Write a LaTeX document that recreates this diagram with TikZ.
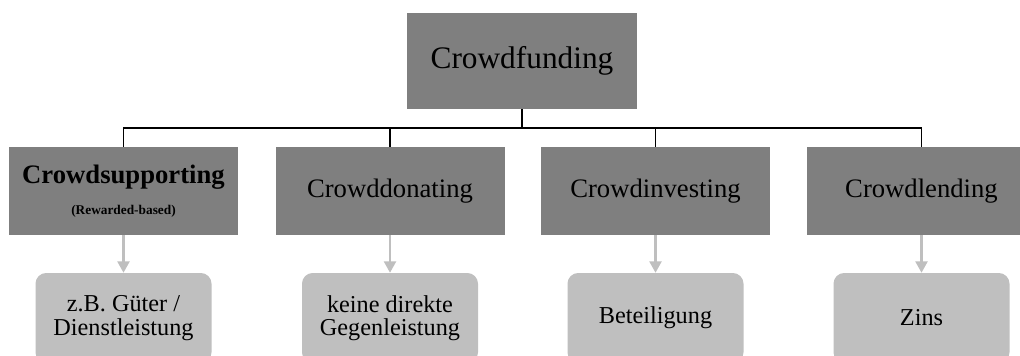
\documentclass[tikz,border=0pt]{standalone}
\usepackage{fontspec}
\setmainfont{Liberation Serif}
\usepackage{tikz}
\usetikzlibrary{arrows.meta}

\definecolor{darkbox}{HTML}{7F7F7F}
\definecolor{lightbox}{HTML}{BFBFBF}

\begin{document}
\begin{tikzpicture}[x=0.75pt, y=-0.75pt,
        topbox/.style={fill=darkbox, minimum width=230pt*0.75, minimum height=96pt*0.75, inner sep=0pt, font=\fontsize{23.5}{28}\selectfont},
        typebox/.style={fill=darkbox, minimum width=229pt*0.75, minimum height=88pt*0.75, inner sep=0pt, align=center, font=\fontsize{20}{24}\selectfont},
        resultbox/.style={fill=lightbox, rounded corners=8pt, minimum width=176pt*0.75, minimum height=90pt*0.75, inner sep=0pt, align=center, font=\fontsize{18.2}{17.5}\selectfont},
        bus/.style={thick, black},
        result/.style={lightbox, line width=1.6pt, -{Triangle[width=9pt,length=8.5pt]}}]

        \useasboundingbox (0,0) rectangle (1020,356);

        \node[topbox] (CF) at (522,61) {Crowdfunding};

        \coordinate (J) at (522,128);

        \node[typebox] (CS) at (123.5,191) {{\bfseries Crowdsupporting}\\[-1pt]{\fontsize{10}{12}\selectfont\bfseries (Rewarded-based)}};
        \node[typebox] (CD) at (390,191) {Crowddonating};
        \node[typebox] (CI) at (655.5,191) {Crowdinvesting};
        \node[typebox] (CL) at (921.5,191) {Crowdlending};

        \node[resultbox] (RS) at (123.5,318) {z.B. Güter /\\Dienstleistung};
        \node[resultbox] (RD) at (390,318) {keine direkte\\Gegenleistung};
        \node[resultbox] (RI) at (655.5,318) {Beteiligung};
        \node[resultbox] (RL) at (921.5,318) {Zins};

        \draw[bus] (CF.south) -- (J);

        \foreach \t in {CS,CD,CI,CL}
            \draw[bus] (J) -| (\t.north);

        \draw[result] (CS.south) -- (RS.north);
        \draw[result] (CD.south) -- (RD.north);
        \draw[result] (CI.south) -- (RI.north);
        \draw[result] (CL.south) -- (RL.north);

    \end{tikzpicture}
\end{document}
